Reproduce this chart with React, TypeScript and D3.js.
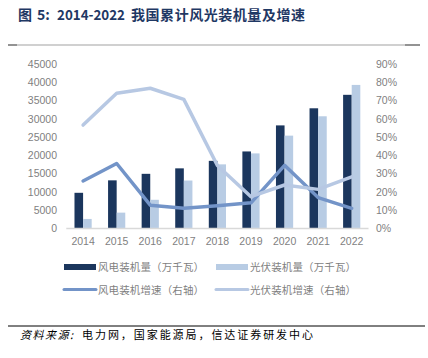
import React from "react";
import * as d3 from "d3";

const years = ["2014", "2015", "2016", "2017", "2018", "2019", "2020", "2021", "2022"];
const windCap = [9657, 13075, 14864, 16367, 18426, 21005, 28153, 32848, 36544];
const pvCap = [2486, 4218, 7742, 13025, 17463, 20468, 25343, 30656, 39261];
const windGrowth = [25.8, 35.4, 12.5, 10.8, 12.2, 13.8, 34.4, 16.7, 10.8];
const pvGrowth = [56.5, 73.9, 76.7, 70.6, 34.3, 17.2, 23.6, 21.2, 28.1];
const leftTicks = [0, 5000, 10000, 15000, 20000, 25000, 30000, 35000, 40000, 45000];
const rightTicks = [0, 10, 20, 30, 40, 50, 60, 70, 80, 90];
const legendItems = [
  { label: "风电装机量（万千瓦）", kind: "bar", color: "#1b365d" },
  { label: "光伏装机量（万千瓦）", kind: "bar", color: "#b8cce4" },
  { label: "风电装机增速（右轴）", kind: "line", color: "#7394c8" },
  { label: "光伏装机增速（右轴）", kind: "line", color: "#b7c8e3" },
];

const WIND = "#1b365d";
const PV = "#b8cce4";
const WIND_L = "#7394c8";
const PV_L = "#b7c8e3";

export default function App() {
  const x = d3.scaleBand<string>().domain(years).range([66.3, 368.5]).padding(0);
  const yL = d3.scaleLinear().domain([0, 45000]).range([228, 64]);
  const yR = d3.scaleLinear().domain([0, 90]).range([228, 64]);
  const bw = 8.6;
  const cx = (y: string) => (x(y) as number) + x.bandwidth() / 2;
  const lineW = d3
    .line<number>()
    .x((_, i) => cx(years[i]))
    .y((d) => yR(d));
  const font = "'Liberation Sans', Arial, 'Noto Sans CJK SC', sans-serif";
  const cjk = "'Noto Sans CJK SC', sans-serif";
  return (
    <svg width={428} height={358} style={{ position: "absolute", left: 0, top: 0 }}>
      <rect width={428} height={358} fill="#fff" />
      <g fontFamily={cjk} fontWeight={700} fontSize={14} fill="#1f3864">
        <text x={18} y={20}>图</text>
        <text x={37} y={20}>5:</text>
        <text x={57} y={20} textLength={68} lengthAdjust="spacingAndGlyphs">2014-2022</text>
        <text x={131} y={20} textLength={174} lengthAdjust="spacing">我国累计风光装机量及增速</text>
      </g>
      <line x1={8} x2={420} y1={45} y2={45} stroke="#c0c0c0" strokeWidth={1.5} />
      <line x1={8} x2={17} y1={45} y2={45} stroke="#7f7f7f" strokeWidth={1.5} />
      <line x1={405} x2={420} y1={45} y2={45} stroke="#7f7f7f" strokeWidth={1.5} />

      {leftTicks.map((t) => (
        <text key={t} x={57} y={yL(t) + 4} textAnchor="end" fontFamily={font} fontSize={10.5} fill="#7f7f7f">
          {t}
        </text>
      ))}
      {rightTicks.map((t) => (
        <text key={t} x={376} y={yR(t) + 4} textAnchor="start" fontFamily={font} fontSize={10.5} fill="#7f7f7f">
          {t}%
        </text>
      ))}
      {years.map((y, i) => (
        <g key={y}>
          <rect x={cx(y) - bw} y={yL(windCap[i])} width={bw} height={228 - yL(windCap[i])} fill={WIND} />
          <rect x={cx(y)} y={yL(pvCap[i])} width={bw} height={228 - yL(pvCap[i])} fill={PV} />
          <text x={cx(y)} y={245} textAnchor="middle" fontFamily={font} fontSize={10.5} fill="#7f7f7f">
            {y}
          </text>
        </g>
      ))}
      <line x1={66.3} x2={368.5} y1={228.5} y2={228.5} stroke="#d9d9d9" strokeWidth={1.5} />
      <path d={lineW(windGrowth) || ""} fill="none" stroke={WIND_L} strokeWidth={3.5} strokeLinejoin="round" strokeLinecap="round" />
      <path d={lineW(pvGrowth) || ""} fill="none" stroke={PV_L} strokeWidth={3.5} strokeLinejoin="round" strokeLinecap="round" />

      {legendItems.map((it, i) => {
        const lx = i % 2 === 0 ? 64 : 216;
        const ly = i < 2 ? 267 : 289.5;
        return (
          <g key={it.label}>
            {it.kind === "bar" ? (
              <rect x={lx} y={ly - 3} width={32} height={6} fill={it.color} />
            ) : (
              <line x1={lx} x2={lx + 32} y1={ly} y2={ly} stroke={it.color} strokeWidth={3} strokeLinecap="round" />
            )}
            <text x={lx + 34} y={ly + 4} fontFamily={cjk} fontSize={10.5} fill="#7f7f7f" textLength={106} lengthAdjust="spacing">
              {it.label}
            </text>
          </g>
        );
      })}

      <line x1={8} x2={425} y1={326} y2={326} stroke="#000" strokeWidth={1} />
      <g fontFamily={cjk} fontSize={11} fill="#000">
        <text x={20} y={339} fontStyle="italic" textLength={53} lengthAdjust="spacing">资料来源:</text>
        <text x={82} y={339} textLength={231} lengthAdjust="spacing">电力网，国家能源局，信达证券研发中心</text>
      </g>
    </svg>
  );
}
